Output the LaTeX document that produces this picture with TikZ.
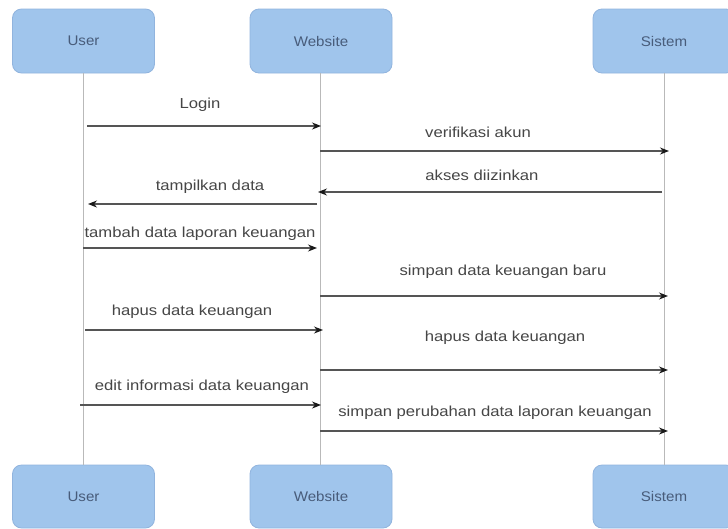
\documentclass[tikz,border=0pt]{standalone}
\usepackage{fontspec}
\setmainfont{Liberation Sans}
\newfontfamily\msgfont[FakeStretch=1.15]{Liberation Sans}
\newfontfamily\boxfont[FakeStretch=1.08]{Liberation Sans}
\usetikzlibrary{arrows.meta}
\definecolor{boxfill}{RGB}{160,197,236}
\definecolor{boxline}{RGB}{145,180,222}
\definecolor{boxtext}{RGB}{72,92,122}
\definecolor{msgtext}{RGB}{70,70,70}
\definecolor{msgline}{RGB}{85,85,85}
\definecolor{tipcol}{RGB}{25,25,25}
\definecolor{lifeline}{RGB}{185,185,185}
\tikzset{
  actor/.style={draw=boxline, fill=boxfill, rounded corners=9pt, line width=0.8pt,
    minimum width=142pt, minimum height=64pt, inner sep=0pt,
    font=\boxfont\fontsize{14}{16}\selectfont, text=boxtext},
  lifelinestyle/.style={draw=lifeline, line width=0.9pt},
  msg/.style={draw=msgline, line width=1.3pt, -{Stealth[length=9pt,width=7pt,color=tipcol]}},
  msglabel/.style={font=\msgfont\fontsize{14.5}{17}\selectfont, text=msgtext, inner sep=0pt}
}
\begin{document}
\begin{tikzpicture}[x=1pt,y=-1pt]
\useasboundingbox (0,0) rectangle (728,528);
\fill[white] (0,0) rectangle (728,528);
% top actors
\node[actor] (u1) at (83.5,41) {User};
\node[actor] (w1) at (321,41) {Website};
\node[actor] (s1) at (664,41) {Sistem};
% bottom actors
\node[actor, minimum height=63pt] (u2) at (83.5,496.5) {User};
\node[actor, minimum height=63pt] (w2) at (321,496.5) {Website};
\node[actor, minimum height=63pt] (s2) at (664,496.5) {Sistem};
% lifelines
\coordinate (ut) at (83,73); \coordinate (ub) at (83,465);
\coordinate (wt) at (320,73); \coordinate (wb) at (320,465);
\coordinate (st) at (664,73); \coordinate (sb) at (664,465);
\draw[lifelinestyle] (ut) -- (ub);
\draw[lifelinestyle] (wt) -- (wb);
\draw[lifelinestyle] (st) -- (sb);
% message end points
\coordinate (m1a) at (87,126);  \coordinate (m1b) at (321,126);
\coordinate (m2a) at (320,151); \coordinate (m2b) at (669,151);
\coordinate (m3a) at (662,192); \coordinate (m3b) at (318,192);
\coordinate (m4a) at (317,204); \coordinate (m4b) at (88,204);
\coordinate (m5a) at (83,248);  \coordinate (m5b) at (317,248);
\coordinate (m6a) at (320,296); \coordinate (m6b) at (668,296);
\coordinate (m7a) at (85,330);  \coordinate (m7b) at (323,330);
\coordinate (m8a) at (320,370); \coordinate (m8b) at (668,370);
\coordinate (m9a) at (80,405);  \coordinate (m9b) at (321,405);
\coordinate (m10a) at (320,431); \coordinate (m10b) at (668,431);
\draw[msg] (m1a) -- (m1b);
\draw[msg] (m2a) -- (m2b);
\draw[msg] (m3a) -- (m3b);
\draw[msg] (m4a) -- (m4b);
\draw[msg] (m5a) -- (m5b);
\draw[msg] (m6a) -- (m6b);
\draw[msg] (m7a) -- (m7b);
\draw[msg] (m8a) -- (m8b);
\draw[msg] (m9a) -- (m9b);
\draw[msg] (m10a) -- (m10b);
% labels
\node[msglabel] (l1) at (200,105) {Login};
\node[msglabel] (l2) at (478,132) {verifikasi akun};
\node[msglabel] (l3) at (482,175) {akses diizinkan};
\node[msglabel] (l4) at (210,187) {tampilkan data};
\node[msglabel] (l5) at (200,234) {tambah data laporan keuangan};
\node[msglabel] (l6) at (503,272) {simpan data keuangan baru};
\node[msglabel] (l7) at (192,312) {hapus data keuangan};
\node[msglabel] (l8) at (505,338) {hapus data keuangan};
\node[msglabel] (l9) at (202,387) {edit informasi data keuangan};
\node[msglabel] (l10) at (495,413) {simpan perubahan data laporan keuangan};
\end{tikzpicture}
\end{document}
